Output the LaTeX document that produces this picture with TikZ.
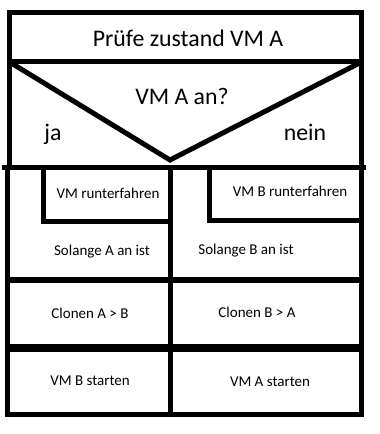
\documentclass[tikz,border=0pt]{standalone}
\usepackage{fontspec}
\setmainfont{Carlito}
\begin{document}
\begin{tikzpicture}[x=1pt,y=-1pt,
  frame/.style={line width=5pt},
  big/.style={font=\fontsize{23.8}{28}\selectfont, inner sep=0pt, anchor=base},
  small/.style={font=\fontsize{15}{18}\selectfont, inner sep=0pt, anchor=base}]
\useasboundingbox[fill=white] (0,0) rectangle (380,434);
% top box
\draw[frame] (9.5,12) rectangle (361.5,61.5);
% decision
\draw[frame] (9.5,61.5) -- (9.5,167.5);
\draw[frame] (361.5,61.5) -- (361.5,167.5);
\draw[frame,line join=miter] (9.5,62) -- (170,160) -- (361.5,62);
\draw[frame] (2,167.5) -- (366,167.5);
% lower part
\draw[frame] (7,167.5) -- (7,414.5);
\draw[frame] (361.5,167.5) -- (361.5,414.5);
\draw[frame] (170.5,167.5) -- (170.5,414.5);
\draw[frame] (4.5,414.5) -- (364,414.5);
\draw[frame] (43.5,167.5) -- (43.5,221) -- (170.5,221);
\draw[frame] (209.5,167.5) -- (209.5,220) -- (361.5,220);
\draw[line width=6pt] (7,279.5) -- (361.5,279.5);
\draw[line width=8pt] (7,348) -- (361.5,348);
% texts
\node[big] (t) at (188,46) {Prüfe zustand VM A};
\node[big] (q) at (182,104) {VM A an?};
\node[big] (ja) at (53,140) {ja};
\node[big] (nein) at (305,140) {nein};
\node[small] (a1) at (108,198) {VM runterfahren};
\node[small] (b1) at (290,196.5) {VM B runterfahren};
\node[small] (a2) at (102,255.5) {Solange A an ist};
\node[small] (b2) at (246,254) {Solange B an ist};
\node[small] (a3) at (90,318) {Clonen A > B};
\node[small] (b3) at (257,317) {Clonen B > A};
\node[small] (a4) at (90,385) {VM B starten};
\node[small] (b4) at (270,386) {VM A starten};
\end{tikzpicture}
\end{document}
